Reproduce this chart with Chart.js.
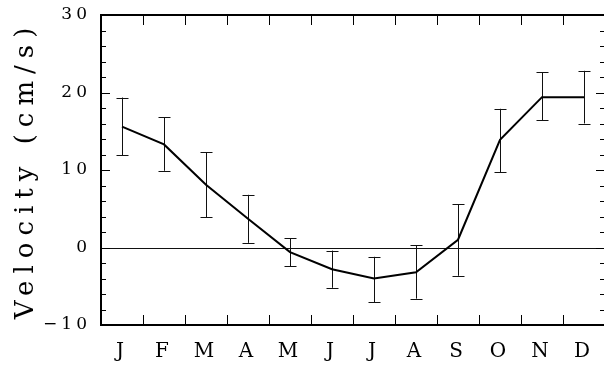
<!DOCTYPE html>
<html>
<head>
<meta charset="UTF-8">
<title>Velocity</title>
<script src="https://cdn.jsdelivr.net/npm/chart.js"></script>
<style>
    body { margin: 0; padding: 0; background: white; overflow: hidden; }
    #wrap { width: 612px; height: 365px; }
</style>
</head>
<body>
<div id="wrap"><canvas id="velChart" width="612" height="365"></canvas></div>
<script>
    // monthly mean velocity and error bar limits
    const months = ['J', 'F', 'M', 'A', 'M', 'J', 'J', 'A', 'S', 'O', 'N', 'D'];
    const velocity = [15.6, 13.3, 8.1, 3.7, -0.6, -2.8, -4.0, -3.2, 1.0, 13.9, 19.4, 19.4];
    const errHigh = [19.35, 16.8, 12.3, 6.8, 1.2, -0.4, -1.2, 0.26, 5.6, 17.9, 22.6, 22.8];
    const errLow = [11.9, 9.9, 3.9, 0.6, -2.45, -5.2, -7.05, -6.6, -3.65, 9.7, 16.4, 16.0];
    const yTickLabels = ['\u221210', '0', '10', '20', '30'];
    const yTitle = 'Velocity (cm/s)';

    const FONT = '"DejaVu Serif", serif';

    // error bars, drawn under the line
    const errorBars = {
        id: 'errorBars',
        beforeDatasetsDraw(chart) {
            const { ctx, scales: { x, y } } = chart;
            ctx.save();
            ctx.strokeStyle = '#111';
            ctx.lineWidth = 1;
            months.forEach((m, i) => {
                const px = Math.round(x.getPixelForValue(i)) + 0.5;
                const top = y.getPixelForValue(errHigh[i]);
                const bot = y.getPixelForValue(errLow[i]);
                ctx.beginPath();
                ctx.moveTo(px, top); ctx.lineTo(px, bot);
                ctx.moveTo(px - 6, Math.round(top) + 0.5); ctx.lineTo(px + 6, Math.round(top) + 0.5);
                ctx.moveTo(px - 6, Math.round(bot) + 0.5); ctx.lineTo(px + 6, Math.round(bot) + 0.5);
                ctx.stroke();
            });
            // zero line
            const y0 = Math.round(y.getPixelForValue(0)) + 0.5;
            ctx.beginPath();
            ctx.moveTo(chart.chartArea.left, y0);
            ctx.lineTo(chart.chartArea.right, y0);
            ctx.stroke();
            ctx.restore();
        }
    };

    // frame with inward ticks, plus rotated spaced title
    const frame = {
        id: 'frame',
        beforeDraw(chart) {
            chart.ctx.letterSpacing = '4px';
        },
        afterDraw(chart) {
            const { ctx, chartArea: a, scales: { x, y } } = chart;
            ctx.save();
            ctx.strokeStyle = '#000';
            ctx.lineWidth = 2;
            ctx.strokeRect(a.left, a.top, a.right - a.left, a.bottom - a.top);

            ctx.lineWidth = 1;
            ctx.beginPath();
            for (let v = -10; v <= 30; v += 2) {
                const py = Math.round(y.getPixelForValue(v)) + 0.5;
                const major = v % 10 === 0;
                ctx.moveTo(a.left, py); ctx.lineTo(a.left + (major ? 9 : 5), py);
                ctx.moveTo(a.right, py); ctx.lineTo(a.right - (major ? 9 : 5), py);
            }
            for (let i = 1; i < months.length; i++) {
                const px = Math.round((x.getPixelForValue(i - 1) + x.getPixelForValue(i)) / 2) + 0.5;
                ctx.moveTo(px, a.top); ctx.lineTo(px, a.top + 10);
                ctx.moveTo(px, a.bottom); ctx.lineTo(px, a.bottom - 10);
            }
            ctx.stroke();

            ctx.letterSpacing = '7px';
            ctx.font = '26px ' + FONT;
            ctx.fillStyle = '#000';
            ctx.textAlign = 'center';
            ctx.textBaseline = 'alphabetic';
            ctx.translate(33, (a.top + a.bottom) / 2);
            ctx.rotate(-Math.PI / 2);
            ctx.fillText(yTitle, 0, 0);
            ctx.restore();
        }
    };

    new Chart(document.getElementById('velChart'), {
        type: 'line',
        data: {
            labels: months,
            datasets: [{
                data: velocity,
                borderColor: '#000',
                borderWidth: 2,
                pointRadius: 0,
                tension: 0,
                fill: false
            }]
        },
        options: {
            responsive: false,
            animation: false,
            layout: { padding: { left: 0, top: 15, right: 7, bottom: 0 } },
            plugins: { legend: { display: false }, tooltip: { enabled: false } },
            scales: {
                x: {
                    offset: true,
                    grid: { display: false },
                    border: { display: false },
                    ticks: { color: '#000', font: { family: FONT, size: 20 }, padding: 7, maxRotation: 0 },
                    afterFit: s => { s.height = 40; s.paddingLeft = 0; s.paddingRight = 0; }
                },
                y: {
                    min: -10,
                    max: 30,
                    grid: { display: false, drawTicks: false },
                    border: { display: false },
                    ticks: {
                        stepSize: 10,
                        color: '#000',
                        font: { family: FONT, size: 17 },
                        padding: 10,
                        callback: (v, i) => yTickLabels[i]
                    },
                    afterFit: s => { s.width = 101; s.paddingTop = 0; s.paddingBottom = 0; }
                }
            }
        },
        plugins: [errorBars, frame]
    });
</script>
</body>
</html>
